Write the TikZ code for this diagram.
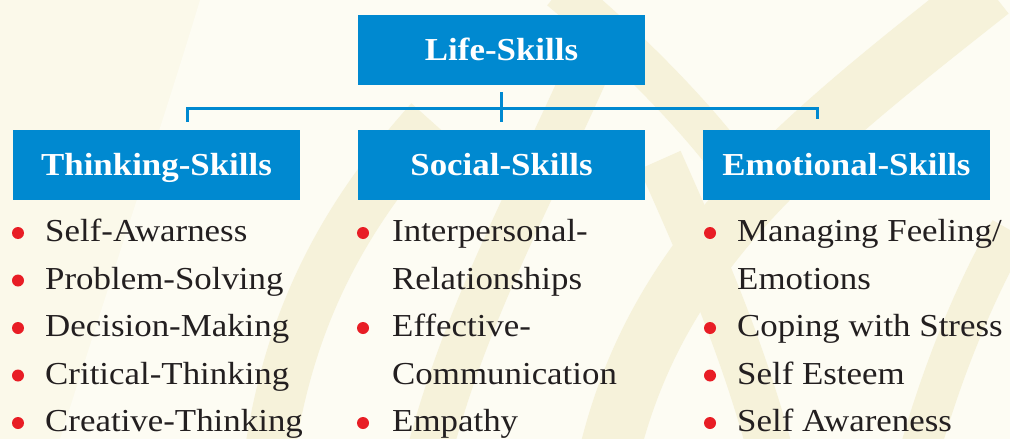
\documentclass[tikz,border=0pt]{standalone}
\usepackage{fontspec}
\setmainfont[FakeStretch=1.09]{Liberation Serif}
\definecolor{boxblue}{HTML}{0089D0}
\definecolor{bulletred}{HTML}{E81D25}
\definecolor{ink}{HTML}{231F20}
\definecolor{basecream}{HTML}{FBF9EA}
\definecolor{bandcream}{HTML}{F6F2DA}
\definecolor{lightcream}{HTML}{FDFCF3}
\tikzset{
  headbox/.style={fill=boxblue, text=white, minimum width=287pt, minimum height=70pt,
    inner sep=0pt, font=\fontsize{32}{38}\selectfont\bfseries, text height=21pt, text depth=0pt},
  item/.style={anchor=base west, inner sep=0pt, text=ink, font=\fontsize{32}{38}\selectfont},
  bulletdot/.style={circle, fill=bulletred, minimum size=12pt, inner sep=0pt},
  bus/.style={draw=boxblue, line width=3pt},
  band/.style={draw=bandcream, line cap=butt},
}
\begin{document}
\begin{tikzpicture}[x=1pt, y=-1pt]
\useasboundingbox (0,0) rectangle (1010,439);
% background
\fill[basecream] (0,0) rectangle (1010,439);
\fill[lightcream] (200,0) -- (1010,0) -- (1010,439) -- (60,439) .. controls (120,250) and (170,100) .. (200,0) -- cycle;
\draw[band, line width=60pt] (990,-10) .. controls (800,140) and (660,250) .. (610,450);
\draw[band, line width=50pt] (430,120) .. controls (340,220) and (290,320) .. (270,450);
\draw[band, line width=40pt] (1010,230) .. controls (970,300) and (940,380) .. (920,450);
\draw[band, line width=45pt] (600,40) .. controls (540,180) and (470,300) .. (430,450);
\draw[band, line width=40pt] (560,-10) .. controls (620,40) and (680,100) .. (720,150);
\draw[band, line width=45pt] (660,160) .. controls (700,250) and (740,340) .. (770,450);
% boxes
\node[headbox] (life) at (501.5,50) {Life-Skills};
\node[headbox] (think) at (156.5,165) {Thinking-Skills};
\node[headbox] (social) at (501.5,165) {Social-Skills};
\node[headbox] (emo) at (846.5,165) {Emotional-Skills};
% connectors
\coordinate (busL) at (187,108);
\coordinate (busM) at (501.5,108);
\coordinate (busR) at (817,108);
\draw[bus] ([yshift=-7pt]life.south) -- ([yshift=8pt]social.north);
\draw[bus] ([yshift=8pt]busL |- think.north) -- (busL) -- (busR) -- ([yshift=11pt]busR |- emo.north);
% thinking items
\node[bulletdot] (t1b) at (18,233) {};
\node[item] (t1) at (45,241.7) {Self-Awarness};
\node[bulletdot] (t2b) at (18,280.5) {};
\node[item] (t2) at (45,289.2) {Problem-Solving};
\node[bulletdot] (t3b) at (18,328) {};
\node[item] (t3) at (45,336.7) {Decision-Making};
\node[bulletdot] (t4b) at (18,375.5) {};
\node[item] (t4) at (45,384.2) {Critical-Thinking};
\node[bulletdot] (t5b) at (18,423) {};
\node[item] (t5) at (45,431.7) {Creative-Thinking};
% social items
\node[bulletdot] (s1b) at (363,233) {};
\node[item] (s1) at (392,241.7) {Interpersonal-};
\node[item] (s1c) at (392,289.2) {Relationships};
\node[bulletdot] (s2b) at (363,328) {};
\node[item] (s2) at (392,336.7) {Effective-};
\node[item] (s2c) at (392,384.2) {Communication};
\node[bulletdot] (s3b) at (363,423) {};
\node[item] (s3) at (392,431.7) {Empathy};
% emotional items
\node[bulletdot] (e1b) at (710,233) {};
\node[item] (e1) at (737,241.7) {Managing Feeling/};
\node[item] (e1c) at (737,289.2) {Emotions};
\node[bulletdot] (e2b) at (710,328) {};
\node[item] (e2) at (737,336.7) {Coping with Stress};
\node[bulletdot] (e3b) at (710,375.5) {};
\node[item] (e3) at (737,384.2) {Self Esteem};
\node[bulletdot] (e4b) at (710,423) {};
\node[item] (e4) at (737,431.7) {Self Awareness};
\end{tikzpicture}
\end{document}
